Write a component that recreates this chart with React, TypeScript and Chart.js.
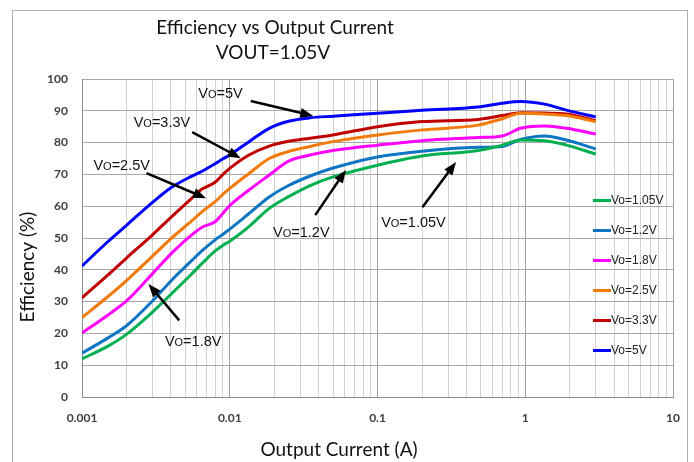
import React, { useEffect, useRef } from "react";
import { Chart, registerables } from "chart.js";

Chart.register(...registerables);

// ---- data ----
const currents = [0.001, 0.0015, 0.002, 0.003, 0.004, 0.0055, 0.0065, 0.008, 0.009, 0.01, 0.0135, 0.0185, 0.025, 0.035, 0.05, 0.1, 0.2, 0.48, 0.7, 0.93, 1.35, 1.9, 3];

const eff105 = [12.0, 16.0, 19.7, 26.7, 32.3, 38.6, 42.0, 46.0, 47.7, 49.0, 53.6, 59.3, 63.0, 66.5, 69.2, 72.9, 75.8, 77.5, 79.2, 80.8, 80.6, 79.2, 76.4];
const eff12 = [13.8, 18.6, 22.4, 30.2, 36.5, 42.8, 46.0, 49.5, 51.2, 52.8, 57.7, 62.9, 66.5, 69.5, 72.0, 75.5, 77.3, 78.5, 78.8, 81.0, 82.1, 80.8, 78.0];
const eff18 = [20.1, 25.8, 30.2, 38.8, 45.0, 50.9, 53.4, 55.2, 57.8, 60.2, 65.1, 69.8, 74.2, 76.1, 77.5, 79.2, 80.6, 81.6, 82.1, 84.5, 85.2, 84.5, 82.7];
const eff25 = [25.0, 31.6, 36.6, 44.3, 49.8, 55.3, 58.3, 61.5, 63.8, 65.6, 70.3, 75.0, 77.2, 78.8, 80.3, 82.4, 84.0, 85.5, 87.5, 89.2, 89.0, 88.5, 86.6];
const eff33 = [31.2, 38.4, 43.7, 51.0, 56.5, 62.4, 65.4, 67.6, 70.0, 71.9, 76.1, 78.9, 80.4, 81.4, 82.4, 85.0, 86.6, 87.3, 88.5, 89.4, 89.3, 89.0, 86.9];
const eff5 = [41.2, 48.9, 54.0, 61.2, 65.8, 69.4, 71.0, 73.4, 74.9, 76.1, 80.3, 84.5, 86.7, 87.8, 88.3, 89.2, 90.2, 91.2, 92.4, 92.9, 92.1, 90.2, 88.1];

const seriesLabels = ["Vo=1.05V", "Vo=1.2V", "Vo=1.8V", "Vo=2.5V", "Vo=3.3V", "Vo=5V"];
const seriesValues = [eff105, eff12, eff18, eff25, eff33, eff5];
const seriesColors = ["#00b050", "#0e75c4", "#ff00ff", "#f27a0a", "#c00000", "#0000ff"];

const xTickValues = [0.001, 0.01, 0.1, 1, 10];
const xTickLabels = ["0.001", "0.01", "0.1", "1", "10"];
const yTickStep = 10;

const titleLines = ["Efficiency vs Output Current", "VOUT=1.05V"];
const xTitle = "Output Current (A)";
const yTitle = "Efficiency (%)";

// annotation labels ("V" + small "O" + suffix), anchored in data coordinates
const annotationSuffix = ["=5V", "=3.3V", "=2.5V", "=1.8V", "=1.2V", "=1.05V"];
const annotationTextAt = [[0.00865, 95.6], [0.003475, 86.5], [0.001856, 72.9], [0.005652, 17.8], [0.03049, 51.8], [0.175, 55.0]];
const annotationArrowFrom = [[0.01387, 93.1], [0.005566, 83.3], [0.002732, 70.4], [0.004551, 24.1], [0.03788, 57.2], [0.2012, 59.7]];
const annotationArrowTo = [[0.0367, 88.4], [0.01187, 75.1], [0.006912, 62.5], [0.002818, 35.5], [0.06115, 71.4], [0.3402, 73.9]];

function sameLog(a: number, b: number) {
  return Math.abs(Math.log10(a) - Math.log10(b)) < 1e-6;
}

export default function App() {
  const ref = useRef<HTMLCanvasElement>(null);

  useEffect(() => {
    const canvas = ref.current;
    if (!canvas) return;

    const gridValues: number[] = [];
    for (let d = 0; d < xTickValues.length - 1; d++) {
      for (let m = 1; m <= 9; m++) gridValues.push(+(m * xTickValues[d]).toPrecision(3));
    }
    gridValues.push(xTickValues[xTickValues.length - 1]);

    const decor = {
      id: "decor",
      afterDraw(chart: any) {
        const ctx = chart.ctx as CanvasRenderingContext2D;
        const xs = chart.scales.x;
        const ys = chart.scales.y;
        ctx.save();

        // outer frame
        ctx.strokeStyle = "#b0b0b0";
        ctx.lineWidth = 1;
        ctx.strokeRect(12.5, 10.5, 675, 470);

        // titles
        ctx.fillStyle = "#111";
        ctx.textAlign = "center";
        ctx.textBaseline = "middle";
        ctx.font = "19px Lato";
        ctx.fillText(titleLines[0], 275, 28);
        ctx.fillText(titleLines[1], 273, 53);
        ctx.fillText(xTitle, 339, 450);
        ctx.save();
        ctx.translate(28, 267);
        ctx.rotate(-Math.PI / 2);
        ctx.fillText(yTitle, 0, 0);
        ctx.restore();

        // legend
        ctx.textAlign = "left";
        ctx.font = "12px 'Liberation Sans'";
        chart.data.datasets.forEach((ds: any, i: number) => {
          const y = 200 + i * 30;
          ctx.strokeStyle = ds.borderColor;
          ctx.lineWidth = 3;
          ctx.beginPath();
          ctx.moveTo(593, y + 0.5);
          ctx.lineTo(611, y + 0.5);
          ctx.stroke();
          ctx.fillStyle = "#222";
          ctx.fillText(ds.label, 611, y + 1);
        });

        // annotations
        annotationSuffix.forEach((suf, i) => {
          const fx = xs.getPixelForValue(annotationArrowFrom[i][0]);
          const fy = ys.getPixelForValue(annotationArrowFrom[i][1]);
          const tx = xs.getPixelForValue(annotationArrowTo[i][0]);
          const ty = ys.getPixelForValue(annotationArrowTo[i][1]);
          const ang = Math.atan2(ty - fy, tx - fx);
          const headLen = 13;
          const headHalf = 5;
          ctx.strokeStyle = "#000";
          ctx.fillStyle = "#000";
          ctx.lineWidth = 2.5;
          ctx.beginPath();
          ctx.moveTo(fx, fy);
          ctx.lineTo(tx - Math.cos(ang) * (headLen - 2), ty - Math.sin(ang) * (headLen - 2));
          ctx.stroke();
          ctx.beginPath();
          ctx.moveTo(tx, ty);
          ctx.lineTo(tx - Math.cos(ang) * headLen - Math.sin(ang) * headHalf, ty - Math.sin(ang) * headLen + Math.cos(ang) * headHalf);
          ctx.lineTo(tx - Math.cos(ang) * headLen + Math.sin(ang) * headHalf, ty - Math.sin(ang) * headLen - Math.cos(ang) * headHalf);
          ctx.closePath();
          ctx.fill();

          const cx = xs.getPixelForValue(annotationTextAt[i][0]);
          const cy = ys.getPixelForValue(annotationTextAt[i][1]);
          const big = "14.5px 'Liberation Sans'";
          const small = "11px 'Liberation Sans'";
          ctx.font = big;
          const wV = ctx.measureText("V").width;
          const wS = ctx.measureText(suf).width;
          ctx.font = small;
          const wO = ctx.measureText("O").width;
          const total = wV + wO + wS;
          let x = cx - total / 2;
          const base = cy + 5.2;
          ctx.textBaseline = "alphabetic";
          ctx.fillStyle = "#111";
          ctx.font = big;
          ctx.fillText("V", x, base);
          x += wV;
          ctx.font = small;
          ctx.fillText("O", x, base);
          x += wO;
          ctx.font = big;
          ctx.fillText(suf, x, base);
          ctx.textBaseline = "middle";
        });

        ctx.restore();
      },
    };

    const tickFont = { family: "Lato", size: 12, weight: "bold" as const };

    const chart = new Chart(canvas, {
      type: "line",
      data: {
        datasets: seriesValues.map((vals, i) => ({
          label: seriesLabels[i],
          data: currents.map((c, j) => ({ x: c, y: vals[j] })),
          borderColor: seriesColors[i],
          backgroundColor: seriesColors[i],
          borderWidth: 3,
          pointRadius: 0,
          fill: false,
          cubicInterpolationMode: "monotone" as const,
        })),
      },
      options: {
        animation: false,
        responsive: true,
        maintainAspectRatio: false,
        layout: { padding: { left: 0, right: 17, top: 79, bottom: 0 } },
        plugins: {
          legend: { display: false },
          title: { display: false },
          tooltip: { enabled: false },
        },
        scales: {
          x: {
            type: "logarithmic",
            min: 0.001,
            max: 10,
            afterBuildTicks: (scale: any) => {
              scale.ticks = gridValues.map((v) => ({ value: v, major: xTickValues.some((t) => sameLog(t, v)) }));
            },
            afterFit: (scale: any) => {
              scale.height = 65;
            },
            grid: {
              color: (c: any) => (c.tick && c.tick.major ? "#a0a0a0" : "#d2d2d2"),
              lineWidth: 1,
              drawTicks: false,
            },
            border: { color: "#8c8c8c" },
            ticks: {
              autoSkip: false,
              maxRotation: 0,
              minRotation: 0,
              padding: 14,
              font: tickFont,
              color: "#404040",
              callback: (v: any) => {
                const i = xTickValues.findIndex((t) => sameLog(t, Number(v)));
                return i >= 0 ? xTickLabels[i] : "";
              },
            },
          },
          y: {
            min: 0,
            max: 100,
            afterFit: (scale: any) => {
              scale.width = 82;
            },
            grid: { color: "#a8a8a8", lineWidth: 1, drawTicks: false },
            border: { color: "#8c8c8c" },
            ticks: {
              stepSize: yTickStep,
              padding: 14,
              font: tickFont,
              color: "#404040",
            },
          },
        },
      },
      plugins: [decor],
    });

    return () => chart.destroy();
  }, []);

  return (
    <div style={{ position: "absolute", left: 0, top: 0, width: 694, height: 462, background: "#fff" }}>
      <canvas ref={ref} />
    </div>
  );
}
